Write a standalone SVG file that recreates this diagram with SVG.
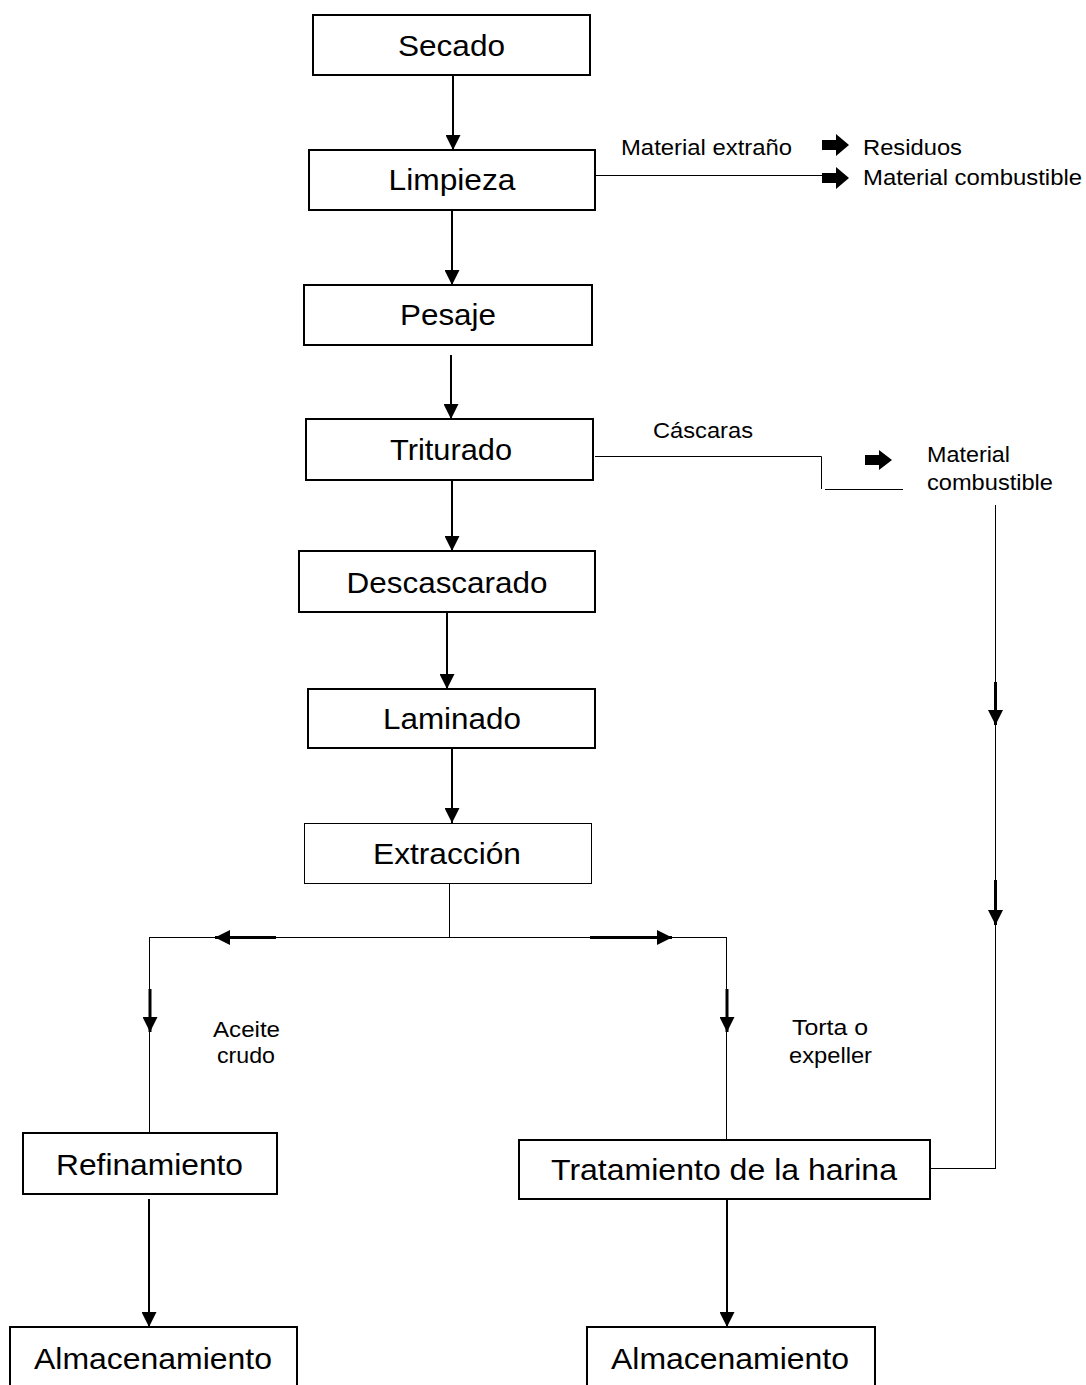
<svg xmlns="http://www.w3.org/2000/svg" width="1086" height="1385" viewBox="0 0 1086 1385">
<defs>
<style>
.box{fill:#fff;stroke:#000;stroke-width:2}
.thin{fill:#fff;stroke:#000;stroke-width:1}
.bt{font-family:"Liberation Sans",Arial,sans-serif;font-size:30px;fill:#000;text-anchor:middle}
.lb{font-family:"Liberation Sans",Arial,sans-serif;font-size:22px;fill:#000}
.arr{stroke:#000;stroke-width:2;fill:none;marker-end:url(#ah)}
.sarr{stroke:#000;stroke-width:3;fill:none;marker-end:url(#ah)}
.ln{stroke:#000;stroke-width:1;fill:none}
.blk{fill:#000}
</style>
<marker id="ah" viewBox="0 0 15 15" refX="15" refY="7.5" markerWidth="15" markerHeight="15" markerUnits="userSpaceOnUse" orient="auto">
<path d="M0,0 L15,7.5 L0,15 z" fill="#000"/>
</marker>
</defs>
<rect width="1086" height="1385" fill="#fff"/>
<g id="connectors">
<line class="arr" x1="453" y1="75" x2="453" y2="150"/>
<line class="arr" x1="452" y1="210" x2="452" y2="285"/>
<line class="arr" x1="451" y1="355" x2="451" y2="419"/>
<line class="arr" x1="452" y1="480" x2="452" y2="551"/>
<line class="arr" x1="447" y1="612" x2="447" y2="689"/>
<line class="arr" x1="452" y1="748" x2="452" y2="823"/>
<line class="ln" x1="595" y1="175.5" x2="822" y2="175.5"/>
<polyline class="ln" points="595,456.5 821.5,456.5 821.5,489"/>
<line class="ln" x1="825" y1="489.5" x2="903" y2="489.5"/>
<line class="ln" x1="995.5" y1="505" x2="995.5" y2="1168"/>
<line class="ln" x1="930" y1="1168.5" x2="996" y2="1168.5"/>
<line class="sarr" x1="995.5" y1="682" x2="995.5" y2="725"/>
<line class="sarr" x1="995.5" y1="880" x2="995.5" y2="925"/>
<line class="ln" x1="449.5" y1="883" x2="449.5" y2="937"/>
<line class="ln" x1="149" y1="937.5" x2="727" y2="937.5"/>
<line class="sarr" x1="276" y1="937.5" x2="215" y2="937.5"/>
<line class="sarr" x1="590" y1="937.5" x2="672" y2="937.5"/>
<line class="ln" x1="149.5" y1="937" x2="149.5" y2="1133"/>
<line class="ln" x1="726.5" y1="937" x2="726.5" y2="1140"/>
<line class="sarr" x1="150" y1="989" x2="150" y2="1032"/>
<line class="sarr" x1="727" y1="989" x2="727" y2="1032"/>
<line class="arr" x1="149" y1="1199" x2="149" y2="1327"/>
<line class="arr" x1="727" y1="1199" x2="727" y2="1327"/>
<polygon class="blk" points="822,140 836,140 836,134 849,145 836,156 836,150 822,150"/>
<polygon class="blk" points="822,173 836,173 836,167 849,178 836,189 836,183 822,183"/>
<polygon class="blk" points="865,455 879,455 879,450 892,460 879,470 879,465 865,465"/>
</g>
<g id="labels">
<text class="lb" x="621" y="155" textLength="171" lengthAdjust="spacingAndGlyphs">Material extraño</text>
<text class="lb" x="863" y="155" textLength="99" lengthAdjust="spacingAndGlyphs">Residuos</text>
<text class="lb" x="863" y="185" textLength="219" lengthAdjust="spacingAndGlyphs">Material combustible</text>
<text class="lb" x="653" y="438" textLength="100" lengthAdjust="spacingAndGlyphs">Cáscaras</text>
<text class="lb" x="927" y="462" textLength="83" lengthAdjust="spacingAndGlyphs">Material</text>
<text class="lb" x="927" y="490" textLength="126" lengthAdjust="spacingAndGlyphs">combustible</text>
<text class="lb" x="213" y="1037" textLength="67" lengthAdjust="spacingAndGlyphs">Aceite</text>
<text class="lb" x="217" y="1063" textLength="58" lengthAdjust="spacingAndGlyphs">crudo</text>
<text class="lb" x="792" y="1035" textLength="76" lengthAdjust="spacingAndGlyphs">Torta o</text>
<text class="lb" x="789" y="1063" textLength="83" lengthAdjust="spacingAndGlyphs">expeller</text>
</g>
<g id="n-secado"><rect class="box" x="313" y="15" width="277" height="60"/><text class="bt" x="451.5" y="56" textLength="107" lengthAdjust="spacingAndGlyphs">Secado</text></g>
<g id="n-limpieza"><rect class="box" x="309" y="150" width="286" height="60"/><text class="bt" x="452" y="190" textLength="127" lengthAdjust="spacingAndGlyphs">Limpieza</text></g>
<g id="n-pesaje"><rect class="box" x="304" y="285" width="288" height="60"/><text class="bt" x="448" y="325" textLength="96" lengthAdjust="spacingAndGlyphs">Pesaje</text></g>
<g id="n-triturado"><rect class="box" x="306" y="419" width="287" height="61"/><text class="bt" x="451" y="460" textLength="122" lengthAdjust="spacingAndGlyphs">Triturado</text></g>
<g id="n-descascarado"><rect class="box" x="299" y="551" width="296" height="61"/><text class="bt" x="447" y="593" textLength="201" lengthAdjust="spacingAndGlyphs">Descascarado</text></g>
<g id="n-laminado"><rect class="box" x="308" y="689" width="287" height="59"/><text class="bt" x="452" y="729" textLength="138" lengthAdjust="spacingAndGlyphs">Laminado</text></g>
<g id="n-extraccion"><rect class="thin" x="304.5" y="823.5" width="287" height="60"/><text class="bt" x="447" y="864" textLength="148" lengthAdjust="spacingAndGlyphs">Extracción</text></g>
<g id="n-refinamiento"><rect class="box" x="23" y="1133" width="254" height="61"/><text class="bt" x="149.5" y="1175" textLength="187" lengthAdjust="spacingAndGlyphs">Refinamiento</text></g>
<g id="n-tratamiento"><rect class="box" x="519" y="1140" width="411" height="59"/><text class="bt" x="724" y="1180" textLength="346" lengthAdjust="spacingAndGlyphs">Tratamiento de la harina</text></g>
<g id="n-almacenamiento-1"><rect class="box" x="10" y="1327" width="287" height="70"/><text class="bt" x="153" y="1369" textLength="238" lengthAdjust="spacingAndGlyphs">Almacenamiento</text></g>
<g id="n-almacenamiento-2"><rect class="box" x="587" y="1327" width="288" height="70"/><text class="bt" x="730" y="1369" textLength="238" lengthAdjust="spacingAndGlyphs">Almacenamiento</text></g>
</svg>
